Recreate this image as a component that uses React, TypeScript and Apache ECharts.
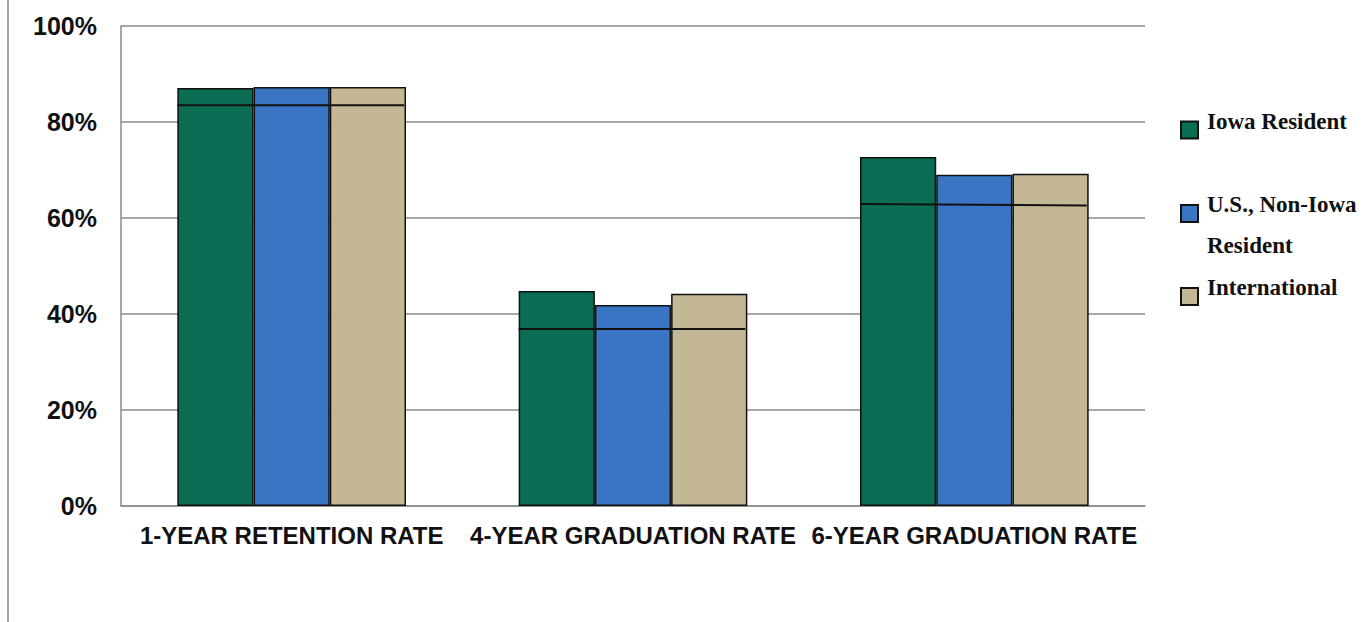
import React, { useEffect, useRef } from "react";
import * as echarts from "echarts";

const categories = ["1-YEAR RETENTION RATE", "4-YEAR GRADUATION RATE", "6-YEAR GRADUATION RATE"];
const seriesNames = ["Iowa Resident", "U.S., Non-Iowa Resident", "International"];
const iowaResident = [87.1, 44.8, 72.7];
const usNonIowa = [87.3, 41.9, 69.0];
const international = [87.3, 44.2, 69.2];
const overallStart = [83.5, 36.9, 62.9];
const overallEnd = [83.5, 36.9, 62.6];
const yTicks = [0, 20, 40, 60, 80, 100];

const colors = ["#0a6d54", "#3a75c4", "#c4b795"];
const BAR_GAP_RATIO = 0.33;

export default function App() {
  const ref = useRef<HTMLDivElement>(null);
  useEffect(() => {
    if (!ref.current) return;
    const chart = echarts.init(ref.current, undefined, { renderer: "svg" });
    const values = [iowaResident, usNonIowa, international];
    const font = {
      fontFamily: "Liberation Serif",
      fontWeight: "bold" as const,
      fontSize: 23,
      color: "#111",
    };
    const legendBase = {
      orient: "vertical",
      left: 1180,
      padding: 0,
      itemWidth: 17,
      itemHeight: 17,
      icon: "rect",
    };
    const option: any = {
      animation: false,
      backgroundColor: "#fff",
      grid: { left: 121, right: 227, top: 26, bottom: 116, containLabel: false },
      xAxis: {
        type: "category",
        data: categories,
        axisLine: { show: true, lineStyle: { color: "#8a8a8a", width: 1.5 } },
        axisTick: { show: false },
        axisLabel: {
          interval: 0,
          margin: 17,
          fontFamily: "Liberation Sans",
          fontWeight: "bold",
          fontSize: 24,
          color: "#111",
        },
      },
      yAxis: {
        type: "value",
        min: yTicks[0],
        max: yTicks[yTicks.length - 1],
        interval: 20,
        axisLine: { show: true, lineStyle: { color: "#8a8a8a", width: 1.5 } },
        axisTick: { show: false },
        splitLine: { lineStyle: { color: "#8a8a8a", width: 1.5 } },
        axisLabel: {
          margin: 24,
          formatter: "{value}%",
          fontFamily: "Liberation Sans",
          fontWeight: "bold",
          fontSize: 25,
          color: "#111",
        },
      },
      legend: [
        {
          ...legendBase,
          top: 109.5,
          data: [seriesNames[0]],
          formatter: (n: string) => `{a|${n}}\n{b| }`,
          textStyle: {
            ...font,
            rich: {
              a: { ...font, lineHeight: 23, padding: [0, 0, 0, 4] },
              b: { ...font, lineHeight: 18 },
            },
          },
        },
        {
          ...legendBase,
          top: 161,
          data: [seriesNames[1]],
          formatter: () => "{b| }\n{a|U.S., Non-Iowa}\n{a|Resident}",
          textStyle: {
            ...font,
            rich: {
              a: { ...font, lineHeight: 41, padding: [0, 0, 0, 4] },
              b: { ...font, lineHeight: 23 },
            },
          },
        },
        {
          ...legendBase,
          top: 276,
          data: [seriesNames[2]],
          formatter: (n: string) => `{a|${n}}\n{b| }`,
          textStyle: {
            ...font,
            rich: {
              a: { ...font, lineHeight: 23, padding: [0, 0, 0, 4] },
              b: { ...font, lineHeight: 18 },
            },
          },
        },
      ],
      series: [
        ...seriesNames.map((name, i) => ({
          name,
          type: "bar",
          data: values[i],
          barGap: "0%",
          barCategoryGap: BAR_GAP_RATIO * 100 + "%",
          itemStyle: { color: colors[i], borderColor: "#111", borderWidth: 1.5 },
          z: 2,
        })),
        {
          name: "Overall",
          type: "custom",
          z: 5,
          data: categories.map((_, i) => [i, overallStart[i], overallEnd[i]]),
          encode: { x: 0, y: [1, 2] },
          renderItem: (params: any, api: any) => {
            const idx = api.value(0);
            const p1 = api.coord([idx, api.value(1)]);
            const p2 = api.coord([idx, api.value(2)]);
            const catW = api.size([1, 0])[0];
            const hw = (catW * (1 - BAR_GAP_RATIO)) / 2;
            return {
              type: "line",
              shape: { x1: p1[0] - hw, y1: p1[1], x2: p2[0] + hw - 2, y2: p2[1] },
              style: { stroke: "#111", lineWidth: 2 },
            };
          },
        },
      ],
      graphic: [
        {
          type: "line",
          shape: { x1: 8, y1: 0, x2: 8, y2: 622 },
          style: { stroke: "#8a8a8a", lineWidth: 1.5 },
        },
      ],
    };
    chart.setOption(option);
    return () => chart.dispose();
  }, []);
  return (
    <div
      ref={ref}
      style={{ position: "fixed", left: 0, top: 0, width: 1372, height: 622 }}
    />
  );
}
